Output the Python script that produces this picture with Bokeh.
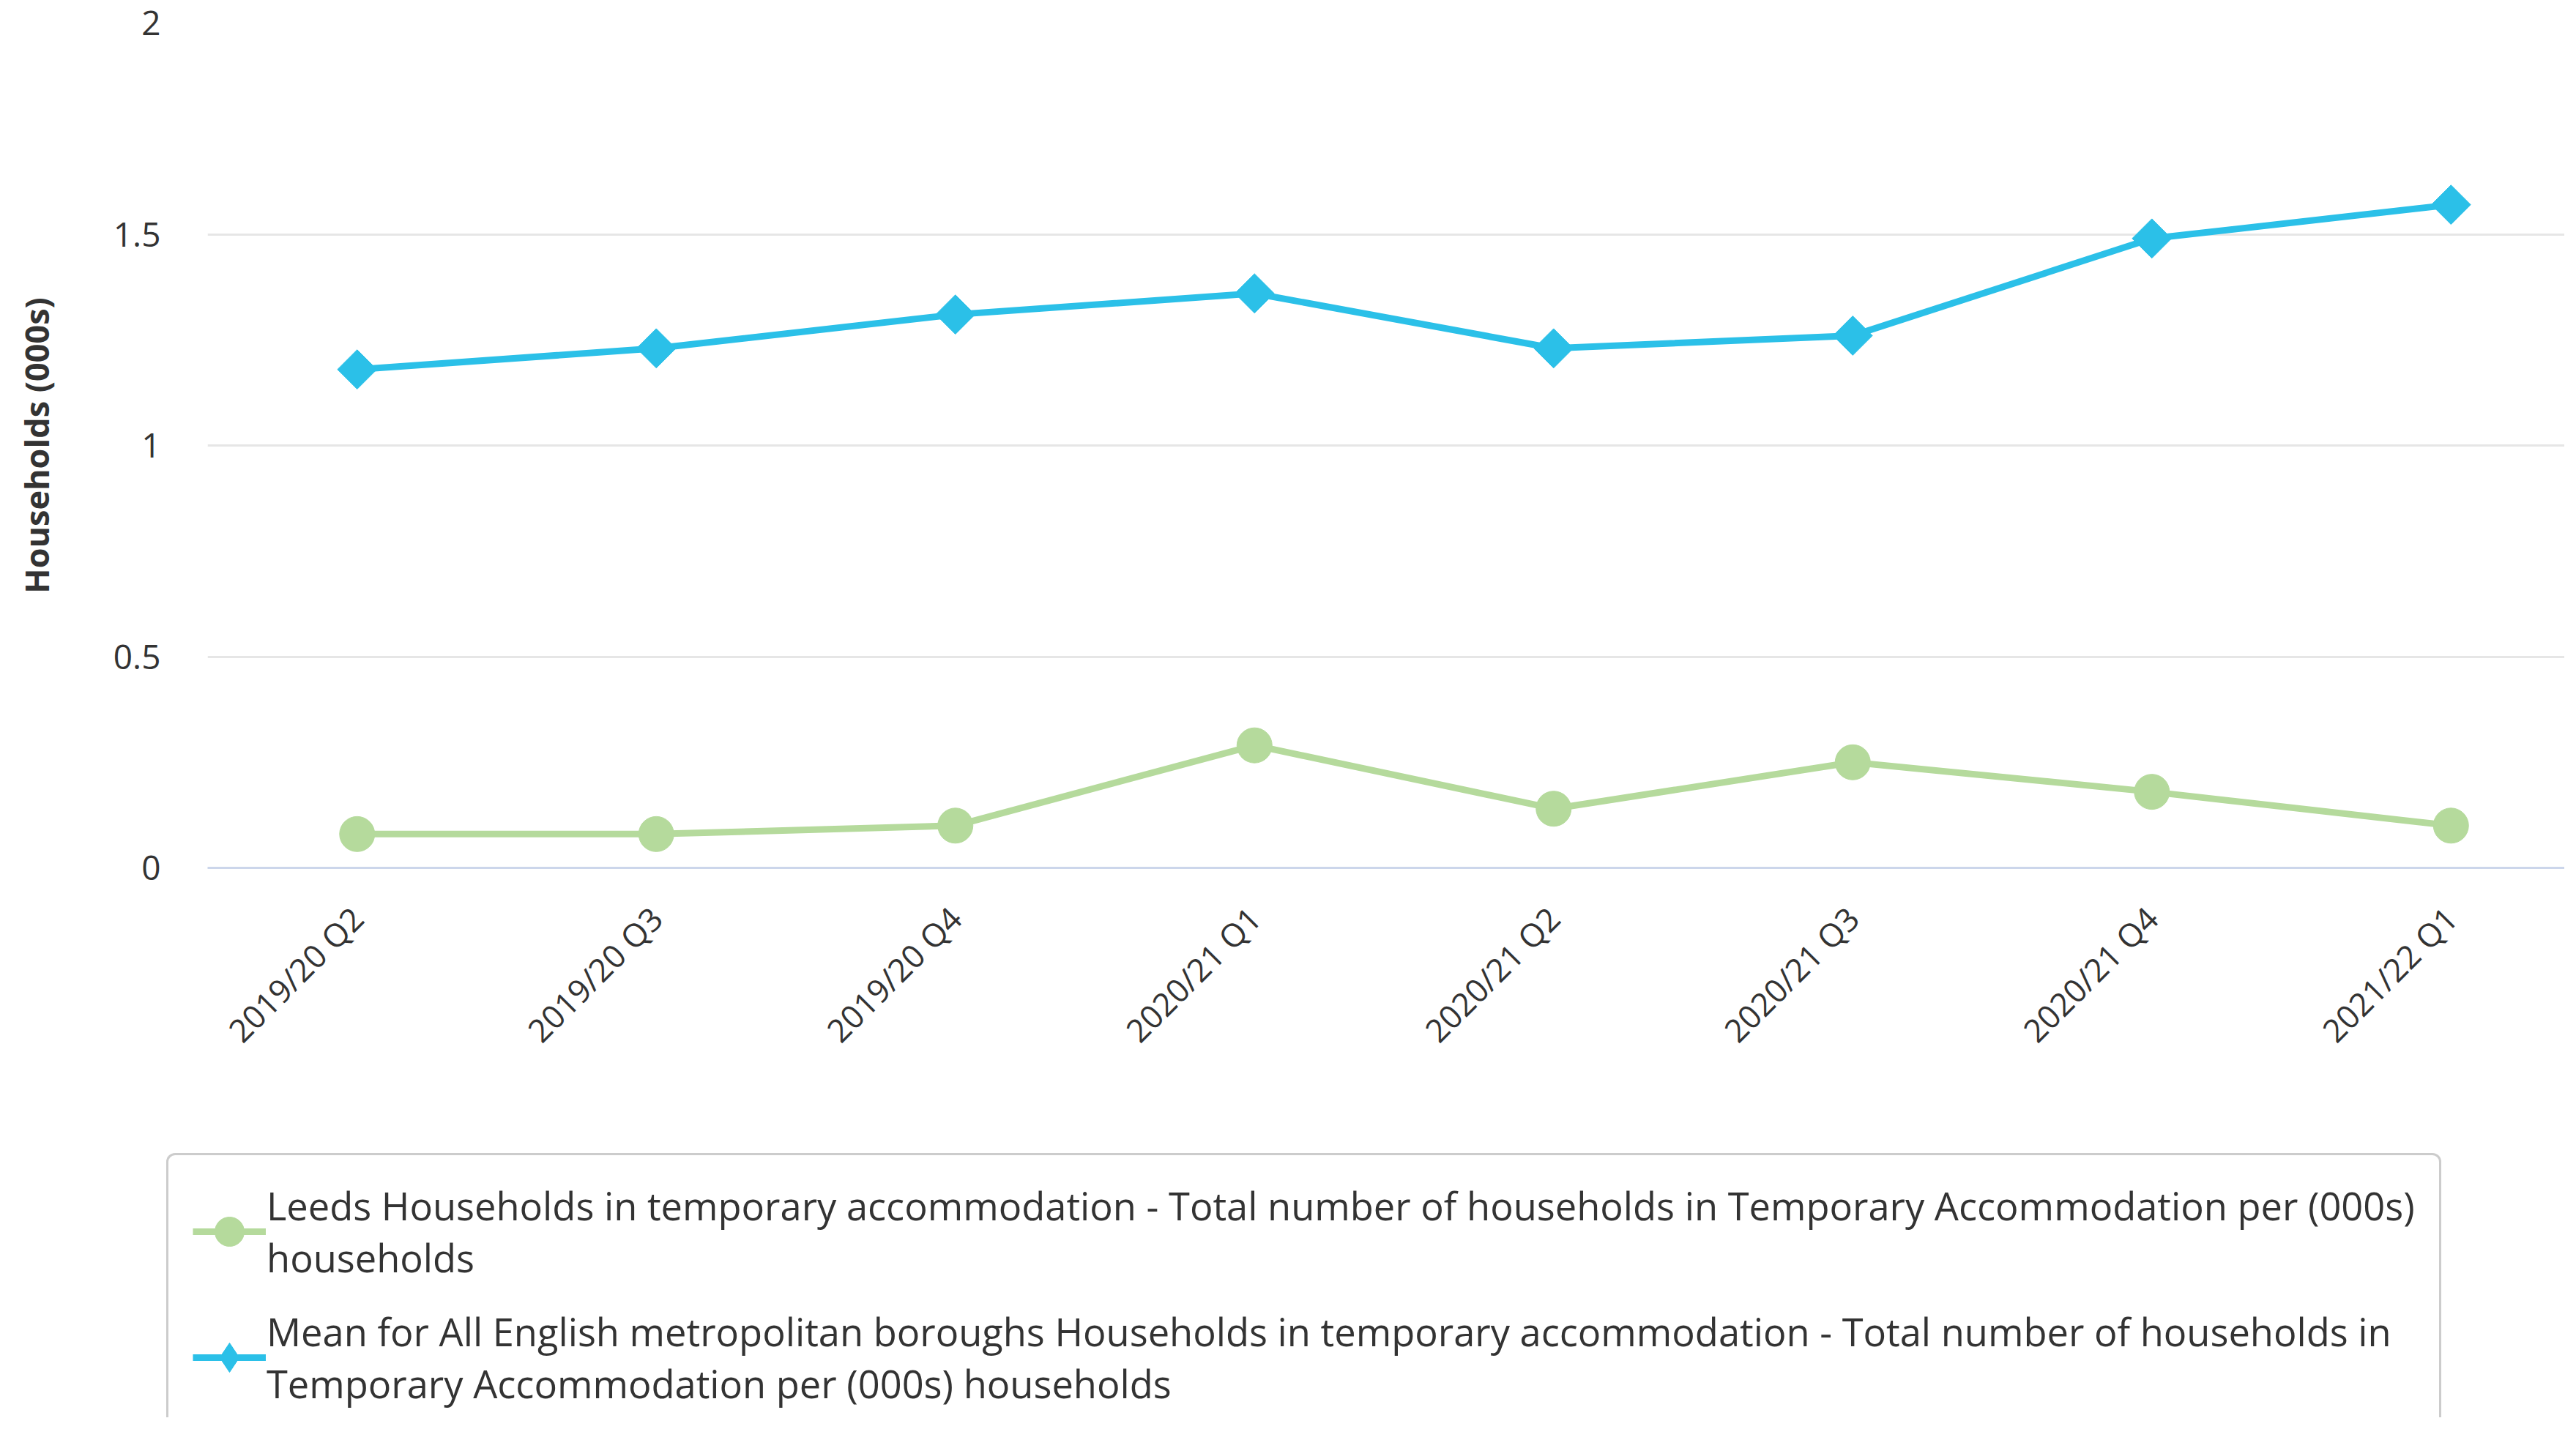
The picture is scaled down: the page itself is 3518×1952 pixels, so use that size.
import math
from bokeh.plotting import figure
from bokeh.layouts import column
from bokeh.models import Range1d, FixedTicker, NumeralTickFormatter, Legend, LegendItem, Plot
from bokeh.embed import file_html
from bokeh.resources import INLINE

# ---- data ----
categories = ["2019/20 Q2", "2019/20 Q3", "2019/20 Q4", "2020/21 Q1",
              "2020/21 Q2", "2020/21 Q3", "2020/21 Q4", "2021/22 Q1"]
leeds = [0.08, 0.08, 0.10, 0.29, 0.14, 0.25, 0.18, 0.10]
mean_metro = [1.18, 1.23, 1.31, 1.36, 1.23, 1.26, 1.49, 1.57]
y_ticks = [0, 0.5, 1, 1.5, 2]
leeds_label = ("Leeds Households in temporary accommodation - Total number of households in Temporary Accommodation per (000s)\n"
               "households")
mean_label = ("Mean for All English metropolitan boroughs Households in temporary accommodation - Total number of households in\n"
              "Temporary Accommodation per (000s) households")

idx = list(range(len(categories)))

GREEN = "#b5da9c"
BLUE = "#2bc0e8"
FONT = "Open Sans"
HAS_FRAME_ALIGN = "frame_align" in Plot.properties()

# ---------------- chart ----------------
p = figure(width=3502, height=1570, output_backend="svg", toolbar_location=None,
           x_range=Range1d(-0.5, 7.38), y_range=Range1d(0, 2),
           min_border_left=283, min_border_top=31, min_border_bottom=385, min_border_right=0)
p.outline_line_color = None
p.background_fill_color = "white"
p.border_fill_color = "white"
if HAS_FRAME_ALIGN:
    p.frame_align = False

p.xgrid.grid_line_color = None
p.ygrid.grid_line_color = "#e6e6e6"
p.ygrid.grid_line_width = 3
p.ygrid.ticker = FixedTicker(ticks=y_ticks)

p.yaxis.ticker = FixedTicker(ticks=y_ticks)
p.yaxis.formatter = NumeralTickFormatter(format="0.[0]")
p.yaxis.axis_line_color = None
p.yaxis.major_tick_line_color = None
p.yaxis.minor_tick_line_color = None
p.yaxis.major_label_standoff = 58
p.yaxis.major_label_text_font = FONT
p.yaxis.major_label_text_font_size = "46px"
p.yaxis.major_label_text_color = "#333333"
p.yaxis.axis_label = "Households (000s)"
p.yaxis.axis_label_text_font = FONT
p.yaxis.axis_label_text_font_size = "45px"
p.yaxis.axis_label_text_font_style = "bold"
p.yaxis.axis_label_text_color = "#333333"
p.yaxis.axis_label_standoff = 72

p.xaxis.ticker = FixedTicker(ticks=idx)
p.xaxis.major_label_overrides = {i: c for i, c in zip(idx, categories)}
p.xaxis.major_label_orientation = math.pi / 4
p.xaxis.axis_line_color = "#ccd6eb"
p.xaxis.axis_line_width = 3
p.xaxis.major_tick_line_color = None
p.xaxis.minor_tick_line_color = None
p.xaxis.major_label_standoff = 55
p.xaxis.major_label_text_font = FONT
p.xaxis.major_label_text_font_size = "44px"
p.xaxis.major_label_text_color = "#333333"

p.line(idx, leeds, line_color=GREEN, line_width=9)
p.scatter(idx, leeds, marker="circle", size=48, fill_color=GREEN, line_color=GREEN)
p.line(idx, mean_metro, line_color=BLUE, line_width=9)
p.scatter(idx, mean_metro, marker="square", size=38, angle=math.pi / 4,
          fill_color=BLUE, line_color=BLUE)

# ---------------- legend strip ----------------
lg = figure(width=3502, height=366, output_backend="svg", toolbar_location=None,
            x_axis_type=None, y_axis_type=None,
            min_border_left=222, min_border_top=0, min_border_bottom=0, min_border_right=0)
lg.outline_line_color = None
lg.background_fill_color = "white"
lg.border_fill_color = "white"
if HAS_FRAME_ALIGN:
    lg.frame_align = False

# legend proxies (hidden renderers carrying each series' style)
g_line = lg.line(idx, leeds, line_color=GREEN, line_width=9, visible=False)
g_mark = lg.scatter(idx, leeds, marker="circle", fill_color=GREEN, line_color=GREEN, visible=False)
b_line = lg.line(idx, mean_metro, line_color=BLUE, line_width=9, visible=False)
b_mark = lg.scatter(idx, mean_metro, marker="diamond", fill_color=BLUE, line_color=BLUE, visible=False)

legend = Legend(items=[LegendItem(label=leeds_label, renderers=[g_line, g_mark]),
                       LegendItem(label=mean_label, renderers=[b_line, b_mark])],
                location="top_left")
legend.margin = 5
legend.label_text_font = FONT
legend.label_text_font_size = "52.4px"
legend.label_text_color = "#333333"
legend.label_text_line_height = 1.13
legend.glyph_width = 100
legend.glyph_height = 100
legend.label_standoff = 1
legend.padding = 33
legend.spacing = 30
legend.border_line_color = "#999999"
legend.border_line_width = 3
legend.background_fill_color = "white"
legend.background_fill_alpha = 1
if "border_radius" in Legend.properties():
    legend.border_radius = 12
lg.add_layout(legend, "center")

layout = column(p, lg, spacing=0)
open("out.html", "w").write(file_html(layout, INLINE))
